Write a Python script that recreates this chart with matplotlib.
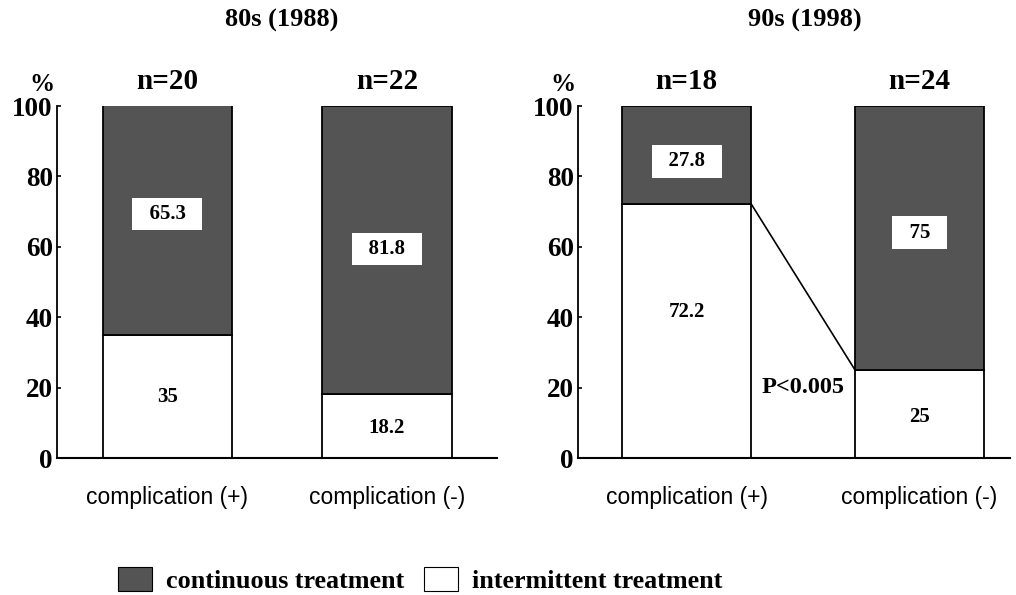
import matplotlib
matplotlib.use("Agg")
import matplotlib.pyplot as plt
from matplotlib.patches import Patch

# ---- data ----
categories = ["complication (+)", "complication (-)"]
panel_titles = ["80s (1988)", "90s (1998)"]
n_labels = [["n=20", "n=22"], ["n=18", "n=24"]]
continuous = [[65.3, 81.8], [27.8, 75.0]]
intermittent = [[35.0, 18.2], [72.2, 25.0]]
yticks = [0, 20, 40, 60, 80, 100]
p_text = "P<0.005"

# label positions (data y)
cont_label_y = [[69.3, 59.4], [84.3, 64.0]]
inter_label_y = [[17.3, 8.5], [41.4, 11.7]]

SERIF = "Liberation Serif"
SANS = "Liberation Sans"
DARK = "#545454"

W, H = 1016, 595
fig = plt.figure(figsize=(W / 100, H / 100), dpi=100)

def fx(px):
    return px / W

def fy(py):
    return 1 - py / H

geoms = [
    dict(x0=57, x1=497, xlim=(-0.503, 1.501), width=0.588, title_x=282),
    dict(x0=578, x1=1010, xlim=(-0.466, 1.388), width=0.554, title_x=805),
]
y_top, y_bot = 106, 458

for i, g in enumerate(geoms):
    ax = fig.add_axes([fx(g["x0"]), fy(y_bot), fx(g["x1"] - g["x0"]),
                       (y_bot - y_top) / H])
    xs = list(range(len(categories)))
    w = g["width"]
    ax.bar(xs, intermittent[i], width=w, color="white", edgecolor="black",
           linewidth=1.3, zorder=2)
    ax.bar(xs, continuous[i], width=w, bottom=intermittent[i], color=DARK,
           edgecolor="black", linewidth=1.3, zorder=2)
    ax.set_xlim(*g["xlim"])
    ax.set_ylim(0, 100)
    ax.spines["top"].set_visible(False)
    ax.spines["right"].set_visible(False)
    ax.spines["left"].set_linewidth(1.3)
    ax.spines["bottom"].set_linewidth(1.5)
    ax.set_yticks(yticks)
    ax.set_yticklabels([str(t) for t in yticks], fontfamily=SERIF,
                       fontweight="bold", fontsize=19.5)
    ax.tick_params(axis="y", direction="in", length=3, width=1.2, pad=3)
    ax.set_xticks(xs)
    ax.set_xticklabels(categories, fontfamily=SANS, fontsize=16.5)
    ax.tick_params(axis="x", length=0, pad=20)

    for j, x in enumerate(xs):
        ax.text(x, 107.0, n_labels[i][j], ha="center", va="center",
                fontfamily=SERIF, fontweight="bold", fontsize=21,
                clip_on=False)
        ax.text(x, cont_label_y[i][j], "  " + f"{continuous[i][j]:g}" + "  ",
                ha="center", va="center", fontfamily=SERIF,
                fontweight="bold", fontsize=15, zorder=4,
                bbox=dict(boxstyle="square,pad=0.3", facecolor="white",
                          edgecolor="none"))
        ax.text(x, inter_label_y[i][j], f"{intermittent[i][j]:g}",
                ha="center", va="center", fontfamily=SERIF,
                fontweight="bold", fontsize=15, zorder=4)

    ax.text(-0.005, 1.06, "%", transform=ax.transAxes, ha="right",
            va="center", fontfamily=SERIF, fontweight="bold", fontsize=18)

    fig.text(fx(g["title_x"]), fy(20), panel_titles[i], ha="center",
             va="center", fontfamily=SERIF, fontweight="bold", fontsize=19)

    if i == 1:
        ax.plot([xs[0] + w / 2, xs[1] - w / 2],
                [intermittent[i][0], intermittent[i][1]],
                color="black", linewidth=1.2, zorder=3)
        ax.text(0.5, 20, p_text, ha="center", va="center", fontfamily=SERIF,
                fontweight="bold", fontsize=17.5)

handles = [Patch(facecolor=DARK, edgecolor="black", linewidth=0.8),
           Patch(facecolor="white", edgecolor="black", linewidth=0.8)]
fig.legend(handles, ["continuous treatment", "intermittent treatment"],
           loc="center", bbox_to_anchor=(fx(420), fy(580)), ncol=2,
           frameon=False, handlelength=1.3, handleheight=1.0,
           handletextpad=0.55, columnspacing=0.75, borderpad=0.0,
           prop=dict(family=SERIF, weight="bold", size=18.8))

fig.savefig("out.png", dpi=100)
